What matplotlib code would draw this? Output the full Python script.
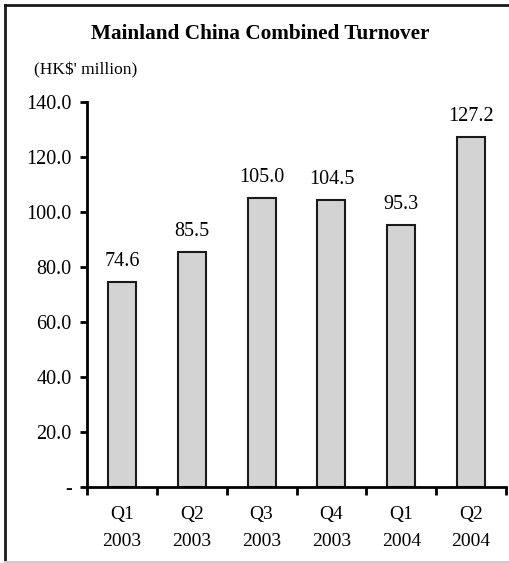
import matplotlib.pyplot as plt
from matplotlib.lines import Line2D

quarters = ['Q1\n2003', 'Q2\n2003', 'Q3\n2003', 'Q4\n2003', 'Q1\n2004', 'Q2\n2004']
turnover = [74.6, 85.5, 105.0, 104.5, 95.3, 127.2]
yticks = [0, 20, 40, 60, 80, 100, 120, 140]

plt.rcParams['font.family'] = ['Liberation Serif', 'DejaVu Serif']

W, H = 509, 563
fig = plt.figure(figsize=(W / 100, H / 100), dpi=100)
ax = fig.add_axes([87 / W, 1 - 487 / H, (506 - 87) / W, (487 - 102) / H])

x = range(len(turnover))
ax.bar(x, turnover, width=0.4, color='#d3d3d3', edgecolor='#1a1a1a', linewidth=1.5)
for xi, v in zip(x, turnover):
    ax.annotate(f'{v:.1f}', (xi, v), xytext=(0, 8), textcoords='offset points',
                ha='center', va='bottom', fontsize=14.5)

ax.set_xlim(-0.5, len(turnover) - 0.5)
ax.set_ylim(0, 140)
ax.set_yticks(yticks)
ax.set_yticklabels(['-'] + [f'{t:.1f}' for t in yticks[1:]], fontsize=14.5)

# category labels centred, tick marks between categories
ax.set_xticks(list(x))
ax.set_xticklabels(quarters, fontsize=14, linespacing=1.75)
ax.tick_params(axis='x', which='major', length=0, pad=14)
ax.set_xticks([i - 0.5 for i in range(len(turnover) + 1)], minor=True)
ax.tick_params(axis='x', which='minor', length=6, width=2, direction='out')
ax.tick_params(axis='y', length=5, width=2, direction='out', pad=6)

for side in ['top', 'right']:
    ax.spines[side].set_visible(False)
for side in ['left', 'bottom']:
    ax.spines[side].set_linewidth(2)

fig.text(260 / W, 1 - 34 / H, 'Mainland China Combined Turnover', ha='center', va='center',
         fontsize=15.3, fontweight='bold')
fig.text(34 / W, 1 - 70 / H, "(HK$' million)", ha='left', va='center', fontsize=12.5)

# page frame
fig.add_artist(Line2D([5 / W, 5 / W], [0, 1 - 5 / H], color='#1a1a1a', linewidth=2))
fig.add_artist(Line2D([5 / W, 1], [1 - 5 / H, 1 - 5 / H], color='#1a1a1a', linewidth=2))
fig.add_artist(Line2D([5 / W, 1], [1.5 / H, 1.5 / H], color='#cccccc', linewidth=1.5))

fig.savefig('out.png', dpi=100)
